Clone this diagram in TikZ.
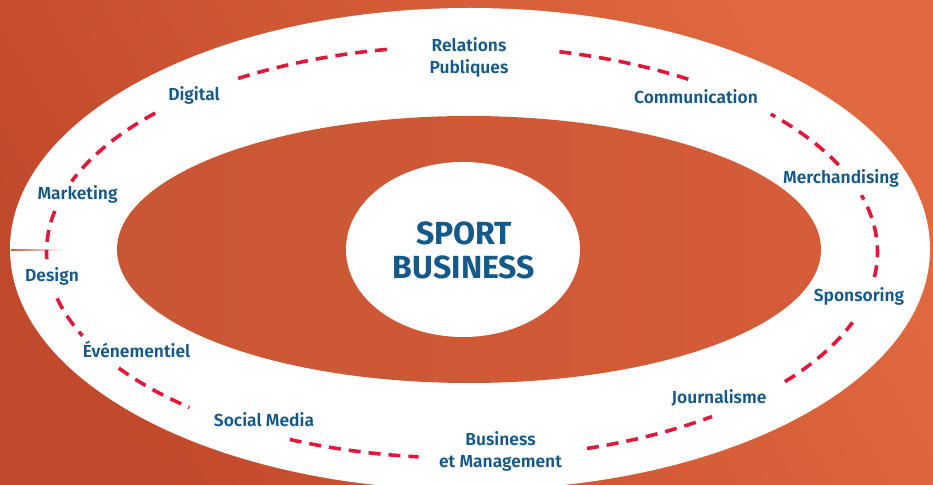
\documentclass[tikz,border=0pt]{standalone}
\usepackage{fontspec}
\usepackage{tikz}
\IfFontExistsTF{Fira Sans SemiBold}
  {\newfontfamily\lblfont{Fira Sans SemiBold}}
  {\newfontfamily\lblfont{Fira Sans}[UprightFont=* Bold]}
\newfontfamily\titlefont{Fira Sans}[UprightFont=* Bold]

\definecolor{bgdark}{HTML}{C24A2C}
\definecolor{bgmid}{HTML}{D0573A}
\definecolor{bglight}{HTML}{E0693F}
\definecolor{ringorange}{HTML}{D35A37}
\definecolor{txtblue}{HTML}{15598A}
\definecolor{dashred}{HTML}{E0193C}

\tikzset{
  lbl/.style={font={\lblfont\fontsize{17.4}{22}\selectfont}, text=txtblue, inner sep=0pt, align=center},
  dashline/.style={draw=dashred, line width=3.6pt, dash pattern=on 12pt off 8pt}
}

\begin{document}
\begin{tikzpicture}[x=1pt,y=1pt]
    \useasboundingbox (0,0) rectangle (933,484);
    % background and rings
    \shade[left color=bgdark, right color=bglight, shading angle=120] (0,0) rectangle (933,484);
    \fill[white] (470,235) ellipse [x radius=460pt, y radius=241pt];
    \shade[left color=ringorange!95!black, right color=ringorange!85!bglight] (469,234.5) ellipse [x radius=352pt, y radius=133.5pt];
    \fill[white] (463,234.5) ellipse [x radius=117pt, y radius=87.5pt];
    \shade[left color=bgmid, right color=white] (11,233.3) rectangle (63,234.7);
    
    % dashed ring
    \coordinate (c) at (462,232);
    \foreach \a/\b in {168.5/182, 137.6/160, 100.4/123, 57/77, 25/42, -7/16,
                       -39/-20, -72.5/-53, -114.5/-96, -145.7/-131, -167/-156}
      \draw[dashline] (c) ++(\a:415.5pt and 206pt)
        arc[start angle=\a, end angle=\b, x radius=415.5pt, y radius=206pt];
    
    % Define nodes
    \node[font={\titlefont\fontsize{32}{34}\selectfont}, text=txtblue, align=center, inner sep=0pt]
      (sport) at (464,234) {SPORT\\BUSINESS};
    \node[lbl] (rel) at (469,426.5) {Relations\\Publiques};
    \node[lbl, anchor=base] (dig) at (194,383) {Digital};
    \node[lbl, anchor=base] (com) at (696,380.7) {Communication};
    \node[lbl, anchor=base] (mkt) at (77.5,284.5) {Marketing};
    \node[lbl, anchor=base] (mer) at (841,300.7) {Merchandising};
    \node[lbl, anchor=base] (des) at (52,202.3) {Design};
    \node[lbl, anchor=base] (spo) at (859,182) {Sponsoring};
    \node[lbl, anchor=base] (eve) at (136.5,126.3) {Événementiel};
    \node[lbl, anchor=base] (soc) at (264,57.3) {Social Media};
    \node[lbl, anchor=base] (jou) at (719,80) {Journalisme};
    \node[lbl] (bus) at (500.5,32.5) {Business\\et Management};
\end{tikzpicture}
\end{document}
